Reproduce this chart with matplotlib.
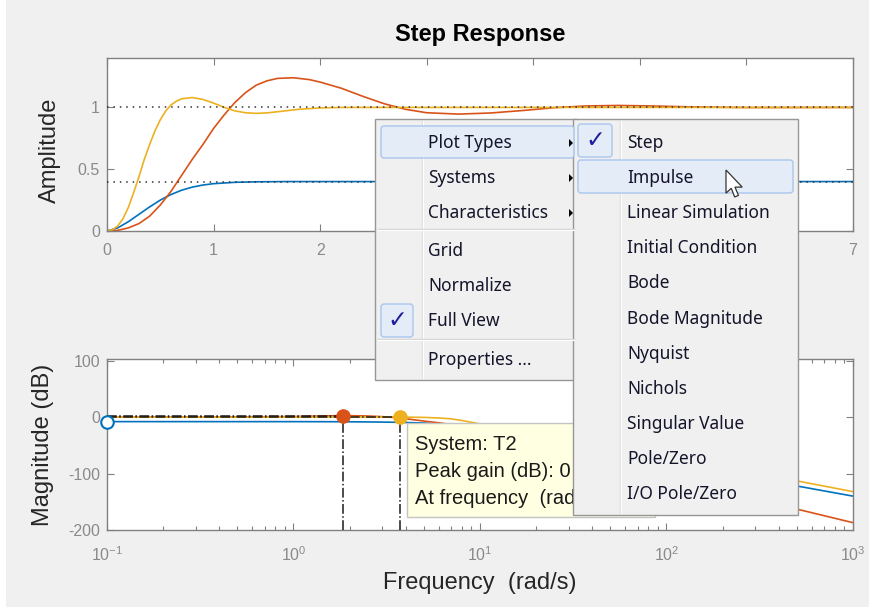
import numpy as np
import matplotlib
matplotlib.use("Agg")
import matplotlib.pyplot as plt
from matplotlib.patches import Rectangle, FancyBboxPatch, Polygon

# step response samples (time in s, amplitude)
step_time_T1 = [0, 0.1, 0.2, 0.3, 0.4, 0.5, 0.6, 0.7, 0.8, 0.9, 1.0, 1.2, 1.4, 1.7, 7.0]
step_amp_T1 = [0, 0.025, 0.075, 0.135, 0.195, 0.25, 0.295, 0.33, 0.355, 0.372, 0.383, 0.394, 0.398, 0.4, 0.4]

step_time_T2 = [0, 0.05, 0.1, 0.15, 0.2, 0.25, 0.3, 0.35, 0.4, 0.45, 0.5, 0.55, 0.6, 0.65, 0.7,
                0.8, 0.9, 1.0, 1.1, 1.2, 1.3, 1.4, 1.5, 1.6, 1.7, 1.8, 2.0, 2.2, 7.0]
step_amp_T2 = [0, 0.01, 0.04, 0.1, 0.19, 0.31, 0.44, 0.58, 0.70, 0.81, 0.90, 0.97, 1.02, 1.05, 1.07,
               1.08, 1.065, 1.035, 1.0, 0.972, 0.957, 0.952, 0.956, 0.965, 0.975, 0.985, 0.996, 1.0, 1.0]

step_time_T3 = [0, 0.1, 0.2, 0.3, 0.4, 0.5, 0.6, 0.7, 0.8, 0.9, 1.0, 1.1, 1.2, 1.3, 1.4, 1.5, 1.6,
                1.75, 1.9, 2.0, 2.2, 2.4, 2.6, 2.8, 3.0, 3.3, 3.6, 3.9, 4.2, 4.5, 4.8, 5.1, 5.5, 6.0, 7.0]
step_amp_T3 = [0, 0.005, 0.025, 0.06, 0.12, 0.21, 0.32, 0.45, 0.58, 0.70, 0.83, 0.94, 1.04, 1.12, 1.18,
               1.215, 1.235, 1.24, 1.225, 1.205, 1.155, 1.09, 1.03, 0.985, 0.957, 0.946, 0.955, 0.975,
               0.998, 1.012, 1.016, 1.012, 1.004, 0.999, 1.0]

steady_state = [1.0, 0.4]

# bode magnitude samples (rad/s, dB)
bode_freq = [0.1, 0.3, 1.0, 1.5, 1.84, 2.5, 3.0, 3.73, 5, 6, 7, 8, 10, 15, 20, 50, 100, 200, 500, 1000]
bode_db_T1 = [-7.96, -7.97, -8.0, -8.1, -8.2, -8.5, -8.8, -9.2, -10.5, -12, -14, -16, -20, -29, -38,
              -63, -81, -99, -122, -140]
bode_db_T2 = [0, 0.0, 0.02, 0.05, 0.08, 0.13, 0.17, 0.2, -0.5, -1.5, -3, -6, -12, -20, -27,
              -52, -71, -90, -113, -132]
bode_db_T3 = [0, 0.1, 1.0, 2.2, 2.8, 2.0, 0.8, -1.5, -7, -10, -13, -16, -22, -33, -42,
              -73, -99, -126, -163, -187]

peak_freq = [0.1, 1.84, 3.73]
peak_db = [-7.96, 2.8, 0.2]

time_tick_labels = ["0", "1", "2", "", "", "", "", "7"]  # 3..6 sit under the menu

main_menu_items = ["Plot Types", "Systems", "Characteristics", "Grid", "Normalize", "Full View",
                   "Properties ..."]
plot_type_items = ["Step", "Impulse", "Linear Simulation", "Initial Condition", "Bode",
                   "Bode Magnitude", "Nyquist", "Nichols", "Singular Value", "Pole/Zero",
                   "I/O Pole/Zero"]
# data tip text, cut where the submenu covers it
tip_lines = ["System: T2", "Peak gain (dB): 0", "At frequency  (rad"]

BLUE = "#0072BD"
RED = "#D95319"
YELLOW = "#EDB120"
AXC = "#808080"

plt.rcParams["font.family"] = ["Liberation Sans", "DejaVu Sans"]
plt.rcParams["axes.unicode_minus"] = False

W, H = 870, 607


def box(x0, y0, x1, y1):
    return [x0 / W, 1 - y1 / H, (x1 - x0) / W, (y1 - y0) / H]


fig = plt.figure(figsize=(8.7, 6.07), dpi=100, facecolor="#f0f0f0")

# overlay in pixel coords, used for the popup menus
ov = fig.add_axes([0, 0, 1, 1], zorder=10)
ov.set_xlim(0, W)
ov.set_ylim(H, 0)
ov.axis("off")
ov.patch.set_alpha(0)
ov.add_patch(Rectangle((0, 0), 6, H, facecolor="white", edgecolor="none"))


def style_axes(ax):
    ax.set_facecolor("white")
    for s in ax.spines.values():
        s.set_color(AXC)
        s.set_linewidth(1.0)
    ax.tick_params(which="both", direction="in", top=True, right=True, color=AXC,
                   labelcolor="#8a8a8a", labelsize=11.5, width=0.8)
    ax.tick_params(which="major", length=5)
    ax.tick_params(which="minor", length=3)
    ax.tick_params(axis="x", pad=9)
    ax.tick_params(axis="y", pad=5)


# Step response
ax1 = fig.add_axes(box(107, 58, 853, 231))
style_axes(ax1)
ax1.plot(step_time_T1, step_amp_T1, color=BLUE, lw=1.2)
ax1.plot(step_time_T3, step_amp_T3, color=RED, lw=1.2)
ax1.plot(step_time_T2, step_amp_T2, color=YELLOW, lw=1.2)
for ss in steady_state:
    ax1.axhline(ss, color="#333333", ls=(0, (1, 3.2)), lw=1.1, zorder=3)
ax1.set_xlim(0, 7)
ax1.set_ylim(0, 1.4)
ax1.set_xticks(range(0, 8))
ax1.set_xticklabels(time_tick_labels)
ax1.set_yticks([0, 0.5, 1])
ax1.set_yticklabels(["0", "0.5", "1"])
ax1.set_ylabel("Amplitude", fontsize=17, color="#262626", va="center")
ax1.yaxis.set_label_coords(-0.076, 0.468)
ax1.set_title("Step Response", fontsize=17, fontweight="bold", y=(231 - 35) / 173, va="center", pad=0)

# Bode magnitude
ax2 = fig.add_axes(box(107, 359, 853, 530))
style_axes(ax2)
ax2.tick_params(axis="x", pad=11)
ax2.semilogx(bode_freq, bode_db_T1, color=BLUE, lw=1.2)
ax2.semilogx(bode_freq, bode_db_T3, color=RED, lw=1.2)
ax2.semilogx(bode_freq, bode_db_T2, color=YELLOW, lw=1.2)
ax2.set_xlim(0.1, 1000)
ax2.set_ylim(-200, 103)
ax2.set_yticks([-200, -100, 0, 100])
for f, d in zip(peak_freq[1:], peak_db[1:]):
    ax2.plot([f, f], [-200, d], color="#1a1a1a", ls="-.", lw=1.1, zorder=4)
    ax2.plot([0.1, f], [d, d], color="#1a1a1a", ls="-.", lw=1.1, zorder=4)
ax2.plot(peak_freq[0], peak_db[0], "o", ms=9, mfc="white", mec=BLUE, mew=1.5, clip_on=False, zorder=6)
ax2.plot(peak_freq[1], peak_db[1], "o", ms=9.5, color=RED, clip_on=False, zorder=6)
ax2.plot(peak_freq[2], peak_db[2], "o", ms=9.5, color=YELLOW, clip_on=False, zorder=6)
ax2.set_ylabel("Magnitude (dB)", fontsize=17, color="#262626", va="center")
ax2.yaxis.set_label_coords((43 - 107) / 746, 0.5)
ax2.set_xlabel("Frequency  (rad/s)", fontsize=17, color="#262626", va="center")
ax2.xaxis.set_label_coords(0.5, (530 - 583) / 171)

# data tip on the T2 peak
ov.add_patch(Rectangle((407, 423), 248, 94, facecolor="#ffffe1", edgecolor="#c4c4c4", lw=1, zorder=1))
for i, s in enumerate(tip_lines):
    ov.text(415, 445 + 26.7 * i, s, fontsize=14.5, color="#1a1a1a", va="center", ha="left", zorder=2)

MENU_FONT = ["Noto Sans", "DejaVu Sans"]
MENU_TXT = "#14142a"


def menu_box(x0, y0, x1, y1):
    ov.add_patch(Rectangle((x0, y0), x1 - x0, y1 - y0, facecolor="#f0f0f0", edgecolor="#979797",
                           lw=1, zorder=5))


def highlight(x0, y0, x1, y1):
    ov.add_patch(FancyBboxPatch((x0, y0), x1 - x0, y1 - y0, boxstyle="round,pad=0,rounding_size=3",
                                facecolor="#e4ecf8", edgecolor="#a9c6ee", lw=1, zorder=7))


# main context menu
menu_box(375, 119, 577, 380)
ov.plot([422, 422], [121, 378], color="#e0e0e0", lw=1, zorder=6)
ov.plot([423, 423], [121, 378], color="white", lw=0.8, zorder=6)
highlight(381, 126, 574, 158)
highlight(381, 304, 413, 337)
for ysep in [229, 339]:
    ov.plot([378, 574], [ysep, ysep], color="#d5d5d5", lw=1, zorder=6)
    ov.plot([378, 574], [ysep + 1, ysep + 1], color="white", lw=0.8, zorder=6)
main_y = [143, 178, 213, 251, 286, 321, 360]
for s, yy in zip(main_menu_items, main_y):
    ov.text(428, yy, s, fontsize=12.5, family=MENU_FONT, color=MENU_TXT, va="center", ha="left", zorder=8)
for yy in main_y[:3]:
    ov.add_patch(Polygon([(569, yy - 4), (569, yy + 4), (573, yy)], closed=True, facecolor="black",
                         edgecolor="none", zorder=8))
ov.text(397, 320, "\u2713", fontsize=17, family=["DejaVu Sans"], color="#1e1e9c", ha="center",
        va="center", zorder=8)

# Plot Types submenu
menu_box(573, 119, 798, 515)
ov.plot([620, 620], [121, 513], color="#e0e0e0", lw=1, zorder=6)
ov.plot([621, 621], [121, 513], color="white", lw=0.8, zorder=6)
highlight(578, 124, 612, 157)
highlight(578, 160, 793, 193)
for i, s in enumerate(plot_type_items):
    ov.text(627, 143 + 35.1 * i, s, fontsize=12.5, family=MENU_FONT, color=MENU_TXT, va="center",
            ha="left", zorder=8)
ov.text(595, 140, "\u2713", fontsize=17, family=["DejaVu Sans"], color="#1e1e9c", ha="center",
        va="center", zorder=8)

# mouse pointer
cursor = np.array([(0, 0), (0, 16), (3.6, 12.6), (6, 18.6), (8.6, 17.5), (6.2, 11.8), (11.2, 11.8)])
cursor = cursor * 1.45 + np.array([726, 170])
ov.add_patch(Polygon(cursor, closed=True, facecolor="white", edgecolor="#333333", lw=0.9, zorder=9))

fig.savefig("out.png", dpi=100, facecolor=fig.get_facecolor())
